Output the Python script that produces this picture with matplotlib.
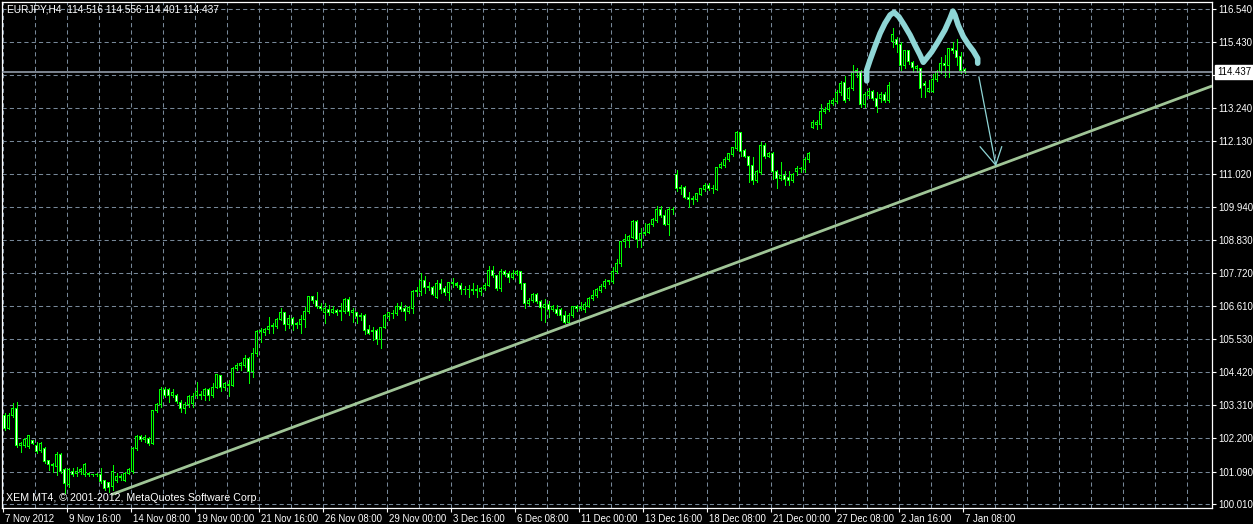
import numpy as np
import matplotlib
matplotlib.use("Agg")
import matplotlib.pyplot as plt
from matplotlib.transforms import blended_transform_factory, ScaledTranslation

plt.rcParams['font.family'] = ['Liberation Sans', 'DejaVu Sans']

# EURJPY H4 bars (open, high, low, close)
opens = [
    102.98, 102.54, 102.98, 103.21, 101.98, 101.96, 101.93, 102.12, 101.98, 101.81,
    101.85, 101.45, 101.34, 101.26, 101.65, 101.15, 100.65, 101.11, 101.04, 101.09,
    100.98, 101.04, 100.98, 100.99, 101.00, 100.78, 100.74, 100.59, 100.81, 100.93,
    100.81, 101.04, 101.09, 101.87, 102.26, 102.15, 102.20, 102.04, 103.12, 103.32,
    103.85, 103.82, 103.65, 103.65, 103.41, 103.21, 103.32, 103.37, 103.65, 103.62,
    103.62, 103.82, 103.65, 103.91, 104.29, 103.91, 104.01, 103.98, 104.54, 104.62,
    104.65, 104.88, 104.43, 105.04, 105.77, 105.73, 105.84, 105.93, 105.93, 106.18,
    106.42, 105.99, 106.21, 105.99, 105.99, 106.18, 106.43, 106.93, 106.80, 106.62,
    106.40, 106.51, 106.42, 106.47, 106.43, 106.43, 106.85, 106.40, 106.42, 106.27,
    106.32, 105.84, 105.79, 105.79, 105.49, 105.91, 106.27, 106.36, 106.38, 106.62,
    106.55, 106.43, 106.55, 107.12, 107.10, 107.46, 107.25, 107.25, 106.91, 107.36,
    107.21, 107.07, 107.40, 107.36, 107.32, 107.16, 107.18, 107.16, 107.14, 107.10,
    107.21, 107.32, 107.80, 107.63, 107.21, 107.77, 107.71, 107.58, 107.71, 107.77,
    107.36, 106.69, 106.80, 107.02, 106.77, 106.58, 106.68, 106.51, 106.51, 106.49,
    106.32, 106.07, 106.29, 106.60, 106.55, 106.49, 106.62, 106.88, 106.96, 107.14,
    107.27, 107.44, 107.44, 107.77, 108.03, 108.77, 108.80, 108.92, 109.44, 108.85,
    109.05, 109.07, 109.33, 109.47, 109.85, 109.65, 109.33, 109.85, 111.02, 110.57,
    110.59, 110.25, 110.18, 110.18, 110.36, 110.50, 110.65, 110.54, 110.52, 111.25,
    111.33, 111.50, 111.68, 111.88, 112.43, 111.80, 111.61, 111.33, 110.83, 111.08,
    111.97, 111.61, 111.72, 111.11, 110.89, 110.97, 110.91, 110.80, 111.11, 111.22,
    111.18, 111.50, 112.58, 112.67, 112.67, 113.11, 113.17, 113.38, 113.45, 113.76,
    114.09, 113.54, 113.89, 114.43, 114.45, 113.34, 113.65, 113.80, 113.56, 113.54,
    113.69, 113.50, 115.47, 115.51, 115.36, 114.65, 115.14, 114.76, 114.54, 114.56,
    114.06, 113.78, 113.78, 114.17, 114.45, 114.73, 114.65, 115.23, 115.17, 114.95,
    114.516,
]
highs = [
    103.04, 103.04, 103.37, 103.41, 102.09, 102.20, 102.31, 102.15, 102.09, 102.09,
    101.93, 101.48, 101.37, 101.76, 101.70, 101.20, 101.20, 101.20, 101.26, 101.20,
    101.37, 101.09, 101.02, 101.04, 101.20, 100.81, 100.76, 101.32, 101.04, 101.00,
    101.09, 101.20, 101.93, 102.31, 102.31, 102.31, 102.26, 103.15, 103.37, 103.93,
    103.93, 103.88, 103.85, 103.70, 103.49, 103.43, 103.65, 103.71, 104.10, 103.80,
    103.87, 103.87, 104.04, 104.32, 104.32, 104.10, 104.15, 104.60, 104.73, 104.76,
    104.99, 104.91, 105.21, 105.82, 105.88, 105.88, 106.27, 106.04, 106.21, 106.54,
    106.43, 106.32, 106.27, 106.10, 106.32, 106.60, 106.95, 106.95, 107.10, 106.71,
    106.73, 106.65, 106.62, 106.51, 106.73, 106.88, 106.93, 106.54, 106.43, 106.38,
    106.36, 105.99, 105.93, 105.84, 105.93, 106.36, 106.43, 106.49, 106.71, 106.77,
    106.66, 106.62, 107.16, 107.27, 107.71, 107.63, 107.44, 107.29, 107.49, 107.51,
    107.29, 107.44, 107.55, 107.44, 107.40, 107.29, 107.32, 107.40, 107.32, 107.27,
    107.38, 107.96, 107.96, 107.66, 107.85, 107.83, 107.80, 107.83, 107.83, 107.80,
    107.40, 106.88, 107.07, 107.07, 106.82, 106.85, 106.80, 106.66, 106.66, 106.55,
    106.47, 106.38, 106.62, 106.66, 106.77, 106.77, 106.94, 107.16, 107.21, 107.36,
    107.51, 107.49, 107.94, 108.18, 108.80, 109.03, 108.99, 109.50, 109.50, 109.22,
    109.41, 109.38, 109.55, 109.96, 109.96, 109.83, 109.92, 109.92, 111.16, 110.66,
    110.63, 110.44, 110.30, 110.41, 110.55, 110.72, 110.72, 110.66, 111.28, 111.44,
    111.59, 111.74, 111.94, 112.48, 112.44, 111.85, 111.63, 111.61, 111.16, 112.11,
    112.05, 111.78, 111.78, 111.16, 111.44, 111.13, 111.13, 111.05, 111.31, 111.27,
    111.61, 111.78, 112.83, 112.83, 113.36, 113.28, 113.50, 113.56, 113.84, 114.12,
    114.31, 113.95, 114.67, 114.56, 114.50, 113.76, 113.89, 113.84, 113.78, 113.76,
    113.76, 114.09, 115.92, 115.62, 115.43, 115.17, 115.17, 114.80, 114.67, 114.58,
    114.14, 114.17, 114.36, 114.50, 114.95, 115.00, 115.25, 115.43, 115.54, 115.12,
    114.556,
]
lows = [
    102.48, 102.50, 102.93, 101.93, 101.76, 101.93, 101.87, 102.00, 101.70, 101.76,
    101.37, 101.15, 101.09, 100.98, 101.04, 100.37, 100.59, 100.93, 100.93, 101.00,
    100.93, 100.93, 100.95, 100.96, 100.70, 100.48, 100.42, 100.48, 100.76, 100.82,
    100.78, 101.00, 101.06, 101.81, 102.10, 102.09, 101.98, 102.00, 103.07, 103.26,
    103.60, 103.43, 103.60, 103.37, 103.10, 103.04, 103.26, 103.26, 103.54, 103.51,
    103.48, 103.48, 103.60, 103.87, 103.80, 103.82, 103.62, 103.95, 104.49, 104.49,
    104.60, 104.06, 104.26, 104.95, 105.43, 105.65, 105.73, 105.71, 105.88, 106.16,
    105.82, 105.88, 105.82, 105.88, 105.71, 105.93, 106.38, 106.71, 106.54, 106.49,
    106.07, 106.32, 106.38, 106.32, 106.16, 106.38, 106.32, 106.10, 106.04, 106.16,
    105.69, 105.69, 105.49, 105.35, 105.21, 105.88, 106.16, 106.21, 106.32, 106.47,
    106.16, 106.40, 106.40, 106.96, 106.99, 107.05, 107.16, 106.99, 106.88, 107.07,
    106.99, 106.82, 107.27, 107.27, 107.02, 107.02, 106.93, 107.02, 106.93, 106.99,
    107.16, 107.29, 107.58, 107.16, 107.14, 107.63, 107.44, 107.51, 107.66, 107.18,
    106.55, 106.66, 106.77, 106.71, 106.16, 106.10, 106.27, 106.47, 106.32, 106.16,
    106.04, 106.02, 106.25, 106.47, 106.49, 106.43, 106.58, 106.82, 106.94, 107.10,
    107.21, 107.36, 107.40, 107.71, 107.96, 108.60, 108.60, 108.88, 108.60, 108.60,
    108.99, 109.05, 109.29, 109.44, 109.58, 109.33, 108.99, 109.69, 110.47, 110.36,
    110.22, 109.92, 110.03, 110.14, 110.33, 110.47, 110.50, 110.41, 110.50, 111.22,
    111.28, 111.48, 111.63, 111.83, 111.63, 111.59, 110.78, 110.70, 110.78, 111.03,
    111.55, 111.59, 110.85, 110.55, 110.83, 110.66, 110.66, 110.75, 111.00, 111.11,
    111.11, 111.44, 112.56, 112.53, 112.58, 113.06, 113.13, 113.34, 113.39, 113.67,
    113.45, 113.50, 113.84, 114.28, 113.28, 113.28, 113.58, 113.50, 113.11, 113.42,
    113.42, 113.45, 115.28, 115.12, 114.50, 114.56, 114.69, 114.45, 114.45, 113.61,
    113.61, 113.76, 113.76, 114.14, 114.39, 114.28, 114.28, 115.06, 114.67, 114.39,
    114.401,
]
closes = [
    102.54, 102.98, 103.21, 101.98, 102.04, 102.15, 102.31, 102.04, 101.76, 102.04,
    101.43, 101.32, 101.29, 101.65, 101.09, 100.70, 101.15, 100.98, 101.09, 101.17,
    101.32, 100.98, 100.99, 101.01, 100.76, 100.53, 100.55, 101.09, 100.93, 100.88,
    101.04, 101.15, 101.87, 102.26, 102.15, 102.23, 102.04, 103.12, 103.32, 103.85,
    103.65, 103.65, 103.74, 103.43, 103.21, 103.34, 103.60, 103.60, 103.76, 103.68,
    103.82, 103.65, 103.91, 104.32, 103.91, 104.02, 103.98, 104.54, 104.65, 104.69,
    104.88, 104.43, 105.04, 105.77, 105.79, 105.84, 105.95, 105.98, 106.18, 106.42,
    105.99, 106.21, 105.99, 106.04, 106.18, 106.44, 106.93, 106.80, 106.60, 106.54,
    106.54, 106.40, 106.51, 106.40, 106.47, 106.85, 106.43, 106.47, 106.27, 106.32,
    105.82, 105.71, 105.76, 105.49, 105.91, 106.32, 106.40, 106.37, 106.62, 106.51,
    106.43, 106.57, 107.12, 107.13, 107.46, 107.25, 107.27, 107.02, 107.36, 107.18,
    107.07, 107.40, 107.36, 107.32, 107.16, 107.18, 107.16, 107.14, 107.16, 107.21,
    107.32, 107.80, 107.63, 107.21, 107.77, 107.69, 107.58, 107.71, 107.77, 107.36,
    106.69, 106.82, 107.02, 106.77, 106.58, 106.68, 106.49, 106.62, 106.36, 106.29,
    106.07, 106.32, 106.60, 106.55, 106.58, 106.66, 106.88, 106.99, 107.16, 107.29,
    107.44, 107.46, 107.77, 108.05, 108.77, 108.86, 108.94, 109.44, 108.85, 109.05,
    109.08, 109.36, 109.50, 109.85, 109.63, 109.36, 109.85, 109.86, 110.55, 110.54,
    110.25, 110.18, 110.22, 110.39, 110.53, 110.66, 110.54, 110.56, 111.25, 111.36,
    111.52, 111.70, 111.90, 112.43, 111.78, 111.61, 111.30, 110.83, 111.11, 111.97,
    111.61, 111.72, 111.11, 110.89, 110.97, 110.86, 110.80, 111.02, 111.22, 111.20,
    111.53, 111.72, 112.76, 112.76, 113.11, 113.20, 113.39, 113.47, 113.76, 114.06,
    113.50, 113.89, 114.43, 114.47, 113.34, 113.69, 113.80, 113.56, 113.28, 113.69,
    113.50, 114.00, 115.69, 115.34, 114.65, 115.14, 114.78, 114.58, 114.62, 113.89,
    114.00, 113.89, 114.17, 114.45, 114.73, 114.65, 115.23, 115.17, 114.92, 114.50,
    114.437,
]

date_labels = ['7 Nov 2012', '9 Nov 16:00', '14 Nov 08:00', '19 Nov 00:00', '21 Nov 16:00',
               '26 Nov 08:00', '29 Nov 00:00', '3 Dec 16:00', '6 Dec 08:00', '11 Dec 00:00',
               '13 Dec 16:00', '18 Dec 08:00', '21 Dec 00:00', '27 Dec 08:00', '2 Jan 16:00',
               '7 Jan 08:00']
price_ticks = [116.540, 115.430, 114.330, 113.240, 112.130, 111.020, 109.940, 108.830,
               107.720, 106.610, 105.530, 104.420, 103.310, 102.200, 101.090, 100.010]
last_price = 114.437

# trend line (bar index, price)
trend_x = [26.8, 301.9]
trend_y = [100.33, 113.97]

# hand drawn double top
m_x = [215.55, 215.55, 216.4, 217.6, 218.9, 220.1, 221.4, 222.4, 223.6, 224.9, 226.4, 227.6,
       228.9, 229.7, 230.5, 231.8, 233.4, 235.1, 236.4, 237.1, 237.6, 238.4, 239.7, 240.95,
       242.2, 243.3, 243.3]
m_y = [114.14, 114.50, 114.84, 115.28, 115.73, 116.06, 116.34, 116.43, 116.28, 116.01, 115.67,
       115.34, 115.00, 114.76, 114.89, 115.11, 115.45, 115.84, 116.23, 116.47, 116.34, 116.01,
       115.62, 115.36, 115.14, 114.89, 114.73]
arrow_x = [243.6, 247.8]
arrow_y = [114.27, 111.33]
head_x = [243.9, 247.8, 249.3]
head_y = [111.94, 111.33, 111.94]

LIME = '#00ff00'
GRID = '#778899'
FS = 6.9

ylo, yhi = 99.878, 116.774
px = (yhi - ylo) / 506.0   # price per screen pixel

o = np.array(opens)
h = np.array(highs)
l = np.array(lows)
c = np.array(closes)
idx = np.arange(len(c))
up = c >= o
body_lo = np.minimum(o, c)
body_h = np.abs(c - o)

fig = plt.figure(figsize=(12.53, 5.24), dpi=100, facecolor='black')
ax = fig.add_axes([2/1253, 1 - 508/524, 1210/1253, 506/524])
ax.set_facecolor('black')
ax.set_xlim(-0.625, 301.875)
ax.set_ylim(ylo, yhi)

# grid
for gx in np.arange(0, 38) * 8 - 0.4:
    ax.axvline(gx, color=GRID, lw=0.75, ls=(0, (4, 3)), zorder=0)
for gy in price_ticks:
    ax.axhline(gy, color=GRID, lw=0.75, ls=(0, (4, 3)), zorder=0)

# candles: lime wick, lime body outline, black (up) / white (down) inside
ax.vlines(idx, l, h, color=LIME, lw=0.72, zorder=2, antialiased=False)
ax.bar(idx, body_h + px, bottom=body_lo - px / 2, width=0.75, color=LIME,
       lw=0, zorder=3, antialiased=False)
inner = body_h > 1.2 * px
ax.bar(idx[inner & up], body_h[inner & up] - px, bottom=body_lo[inner & up] + px / 2,
       width=0.25, color='black', lw=0, zorder=4, antialiased=False)
ax.bar(idx[inner & ~up], body_h[inner & ~up] - px, bottom=body_lo[inner & ~up] + px / 2,
       width=0.25, color='white', lw=0, zorder=4, antialiased=False)

# trend line, current price line, drawings
ax.plot(trend_x, trend_y, color='#a0c597', lw=2.0, zorder=5, solid_capstyle='butt')
ax.axhline(last_price, color='#a0aab8', lw=1.1, zorder=5)
ax.plot(m_x, m_y, color='#8fd6d6', lw=4.0, zorder=6, solid_capstyle='round',
        solid_joinstyle='round')
ax.plot(arrow_x, arrow_y, color='#8fd6d6', lw=0.9, zorder=6)
ax.plot(head_x, head_y, color='#8fd6d6', lw=0.9, zorder=6)

# axes styling
for s in ax.spines.values():
    s.set_color('white')
    s.set_linewidth(0.9)
ax.yaxis.tick_right()
ax.set_yticks(price_ticks)
ax.set_yticklabels(['%.3f' % v if abs(v - 114.33) > 0.001 else '' for v in price_ticks])
ax.set_xticks(np.arange(len(date_labels)) * 16 - 0.4)
ax.set_xticklabels(date_labels)
ax.tick_params(colors='white', labelsize=FS, length=3, width=0.8, pad=1.5)
for lab in ax.get_xticklabels():
    lab.set_horizontalalignment('left')
    lab.set_transform(lab.get_transform() + ScaledTranslation(2/100, 0, fig.dpi_scale_trans))

# last price marker on the scale
tr = blended_transform_factory(ax.transAxes, ax.transData)
ax.text(1.0 + 5/1210, last_price, '%.3f' % last_price, transform=tr, fontsize=FS,
        color='black', ha='left', va='center', clip_on=False, zorder=10,
        bbox=dict(boxstyle='square,pad=0.18', fc='white', ec='white'))

fig.text(7/1253, 1 - 10/524, 'EURJPY,H4  114.516 114.556 114.401 114.437', color='white',
         fontsize=7.3, ha='left', va='center')
ax.text(4/1210, 1 - 496/506, 'XEM MT4, \u00a9 2001-2012, MetaQuotes Software Corp.',
        transform=ax.transAxes, color='white', fontsize=7.7, ha='left', va='center', zorder=10)

fig.savefig('out.png', dpi=100, facecolor='black')
